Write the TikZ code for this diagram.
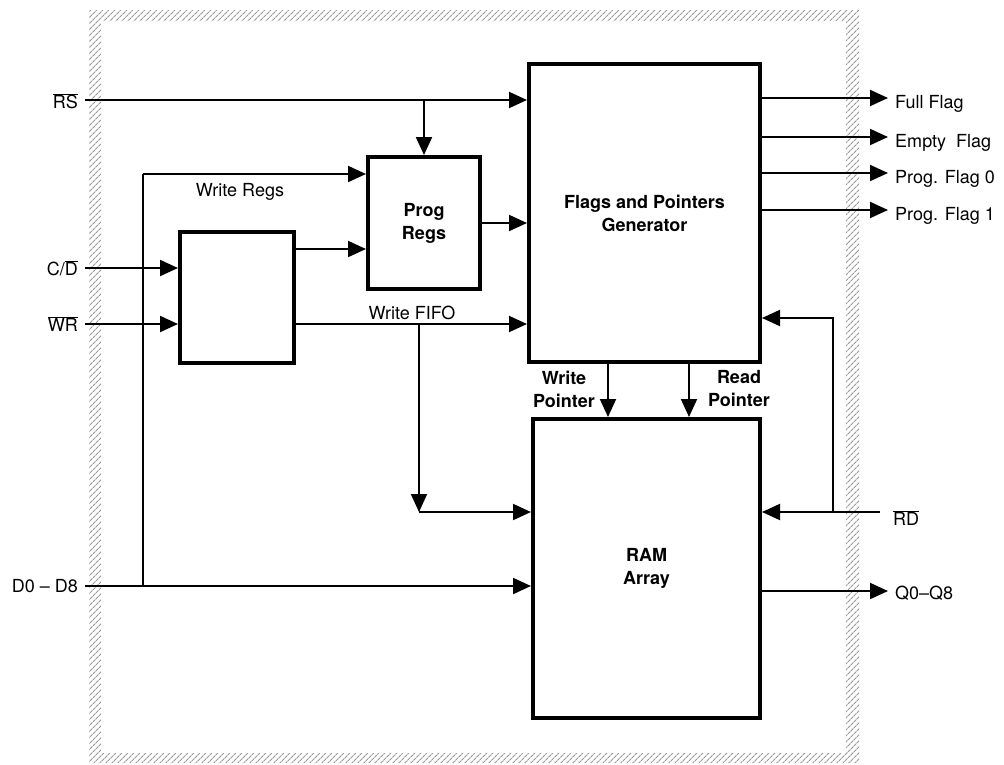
\documentclass[tikz,border=0pt]{standalone}
\usepackage{fontspec}
\setmainfont{TeX Gyre Heros}
\usepackage{tikz}
\usetikzlibrary{arrows.meta, positioning, calc, patterns.meta}
\newcommand{\ovl}[1]{$\overline{\mbox{#1}}$}
\tikzstyle{box}  = [rectangle, draw=black, line width=4pt, anchor=north west,
                    inner sep=0pt, align=center,
                    font=\fontsize{18}{23}\selectfont\bfseries]
\tikzstyle{arr}  = [-{Triangle[length=18pt,width=16pt]}, line width=2pt]
\tikzstyle{wire} = [line width=2pt]
\tikzstyle{sig}  = [inner sep=0pt, font=\fontsize{18}{23}\selectfont]
\tikzstyle{lbl}  = [inner sep=0pt, align=center,
                    font=\fontsize{18}{23}\selectfont\bfseries]

\begin{document}
\begin{tikzpicture}[x=1pt, y=-1pt]
  \useasboundingbox (0,0) rectangle (1004,764);

  %% Hatched package outline
  \fill[pattern={Lines[angle=45, distance=4pt, line width=1.2pt]},
        pattern color=gray!80, even odd rule]
      (89,10) rectangle (859,763) (101,21) rectangle (846,753);

  %% ── Blocks ────────────────────────────────────────────────────
  \node[box, minimum width=231pt, minimum height=298pt] (flags) at (527,62)
      {Flags and Pointers\\Generator};
  \node[box, minimum width=112pt, minimum height=132pt] (prog) at (366,155)
      {Prog\\Regs};
  \node[box, minimum width=114pt, minimum height=131pt] (ctl) at (178,230) {};
  \node[box, minimum width=227pt, minimum height=299pt] (ram) at (531,417)
      {RAM\\Array};

  %% ── Inputs (left side) ────────────────────────────────────────
  \node[sig, anchor=east] (rsl) at (78,101) {\ovl{RS}};
  \node[sig, anchor=east] (cdl) at (78,268) {C/\ovl{D}};
  \node[sig, anchor=east] (wrl) at (78,324) {\ovl{WR}};
  \node[sig, anchor=east] (dl)  at (78,586) {D0 -- D8};

  \coordinate (rsin) at (85,100);
  \coordinate (cdin) at (85,268);
  \coordinate (wrin) at (85,324);
  \coordinate (din)  at (85,586);

  \draw[arr] (rsin) -- (rsin -| flags.west);
  \draw[arr] (cdin) -- (cdin -| ctl.west);
  \draw[arr] (wrin) -- (wrin -| ctl.west);
  \draw[arr] (din) -- (din -| ram.west);

  %% RS also into the program registers
  \draw[arr] (rsin -| prog.north) -- (prog.north);

  %% Write Regs bus (tapped from the data lines)
  \coordinate (wreg) at (143,174);
  \draw[wire] (din -| wreg) -- (wreg);
  \draw[arr] (wreg) -- (wreg -| prog.west);
  \node[sig] (wregl) at (240,192) {Write Regs};

  %% Control block outputs
  \path (ctl.north east) ++(0,19) coordinate (cout);
  \draw[arr] (cout) -- (cout -| prog.west);
  \draw[arr] (prog.east) -- (prog.east -| flags.west);

  \draw[arr] (wrin -| ctl.east) -- (wrin -| flags.west);
  \node[sig] (wfl) at (412,313) {Write FIFO};

  \coordinate (wtap) at (419,324);
  \coordinate (wram) at (419,512);
  \draw[arr] (wtap) -- (wram);
  \draw[arr] (wram) -- (wram -| ram.west);

  %% ── Pointers ──────────────────────────────────────────────────
  \coordinate (wp) at (608,0);
  \coordinate (rp) at (689,0);
  \draw[arr] (flags.south -| wp) -- (ram.north -| wp);
  \draw[arr] (flags.south -| rp) -- (ram.north -| rp);
  \node[lbl] (wpl) at (564,389) {Write\\Pointer};
  \node[lbl] (rpl) at (739,389) {Read\\Pointer};

  %% ── Read side ─────────────────────────────────────────────────
  \coordinate (rdin)  at (880,512);
  \coordinate (rdtap) at (833,512);
  \coordinate (rdf)   at (833,318);
  \node[sig, anchor=west] (rdl) at (893,518) {\ovl{RD}};
  \draw[arr] (rdin) -- (rdin -| ram.east);
  \draw[arr] (rdtap) -- (rdf) -- (rdf -| flags.east);

  %% ── Outputs (right side) ──────────────────────────────────────
  \foreach \y/\name/\txt in {98/full/Full Flag, 137/empty/Empty~~Flag,
                             173/pfa/Prog. Flag 0, 210/pfb/Prog. Flag 1} {
    \coordinate (\name) at (888,\y);
    \draw[arr] (\name -| flags.east) -- (\name);
    \node[sig, anchor=west] (l\name) at (895,\y+6) {\txt};
  }

  \coordinate (qout) at (888,591);
  \draw[arr] (qout -| ram.east) -- (qout);
  \node[sig, anchor=west] (ql) at (895,593) {Q0--Q8};

\end{tikzpicture}
\end{document}
